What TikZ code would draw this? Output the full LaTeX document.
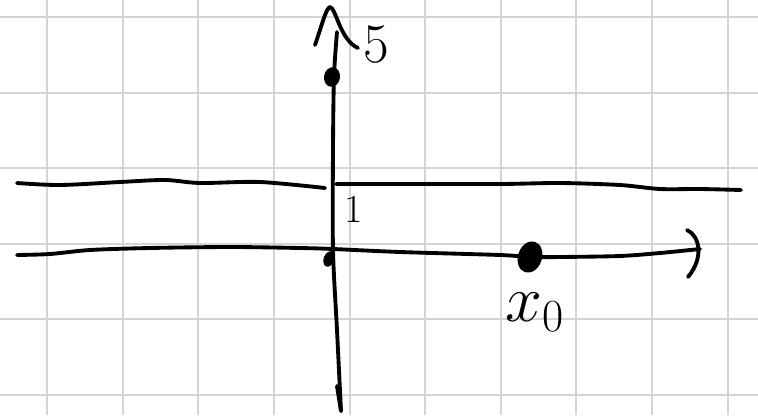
\documentclass[tikz,border=0pt]{standalone}
\usetikzlibrary{shapes.geometric}
\begin{document}
\begin{tikzpicture}[x=0.013210cm, y=-0.013210cm,
  gridline/.style={draw={rgb,255:red,212;green,212;blue,212}, line width=0.7pt},
  ink/.style={draw=black, line width=1.45pt, line cap=round, line join=round},
  dot/.style={ellipse, fill=black, inner sep=0pt},
  lbl/.style={inner sep=0pt, text=black}]
\useasboundingbox (0,0) rectangle (758,415);
\fill[white] (0,0) rectangle (758,415);
% grid
\foreach \gx in {47,122.7,198.3,274,350,425.3,500.7,576,652,727.7}
  \draw[gridline] (\gx,0) -- (\gx,415);
\foreach \gy in {16.7,92.7,167.7,243.7,319.3,395.3}
  \draw[gridline] (0,\gy) -- (758,\gy);
% coordinates
\coordinate (vtop) at (337,32);
\coordinate (vbot) at (341,411);
\coordinate (ulA) at (17,183);
\coordinate (ulB) at (325,188);
\coordinate (urA) at (336,184);
\coordinate (urB) at (741,190);
\coordinate (llA) at (17,255);
\coordinate (llB) at (700,249);
% vertical axis
\draw[ink] plot[smooth, tension=0.5] coordinates {(vtop) (334,77) (333,150) (333,250) (337,330) (vbot)};
\draw[ink] (315,45) .. controls (322,25) and (326,8) .. (330,7) .. controls (336,8) and (340,40) .. (358,48);
\draw[ink] (337,386) -- (vbot);
% upper line
\draw[ink] plot[smooth, tension=0.5] coordinates {(ulA) (60,185) (120,182) (165,180) (200,183) (260,182) (ulB)};
\draw[ink] plot[smooth, tension=0.5] coordinates {(urA) (400,184) (500,184) (560,183) (620,185) (660,189) (700,189) (urB)};
% lower line
\draw[ink] plot[smooth, tension=0.5] coordinates {(llA) (50,254) (90,250) (150,248) (230,247) (300,248) (333,249) (400,252) (500,255) (530,257) (560,257) (620,256) (660,253) (llB)};
\draw[ink] (687,230) .. controls (700,236) and (704,258) .. (688,277);
% dots
\node[dot, minimum width=6pt, minimum height=7.4pt, rotate=-10] (d5) at (332,77) {};
\node[dot, minimum width=4pt, minimum height=6pt, rotate=-20] (d0) at (329,259) {};
\node[dot, minimum width=9pt, minimum height=12pt, rotate=-18] (dx) at (530,257) {};
% labels
\node[lbl, font=\fontsize{21}{21}\selectfont] (l5) at (376,45) {5};
\node[lbl, font=\fontsize{15}{15}\selectfont] (l1) at (354,209) {1};
\node[lbl, font=\fontsize{25}{25}\selectfont] (lx) at (535,312) {$x_0$};
\end{tikzpicture}
\end{document}
